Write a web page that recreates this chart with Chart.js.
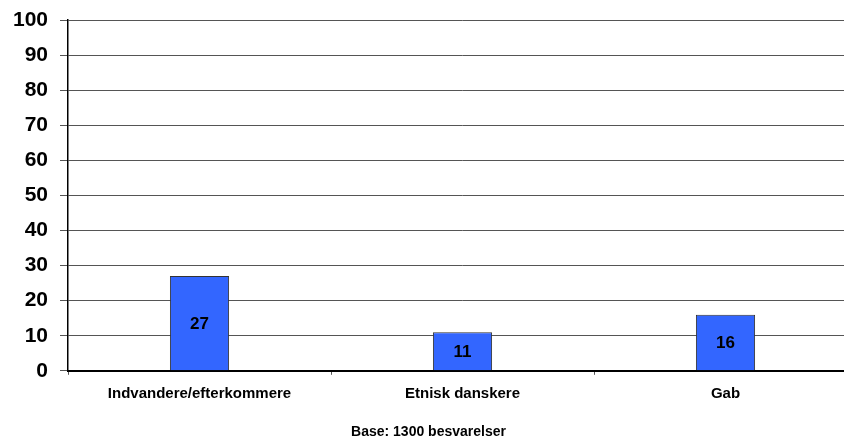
<!DOCTYPE html>
<html>
<head>
<meta charset="utf-8">
<script src="https://cdn.jsdelivr.net/npm/chart.js@4.4.1/dist/chart.umd.min.js"></script>
<style>
  html, body { margin: 0; padding: 0; background: #fff; overflow: hidden; }
  #wrap { width: 844px; height: 438px; overflow: hidden; }
  #box { width: 860px; height: 438px; }
</style>
</head>
<body>
<div id="wrap"><div id="box"><canvas id="gabChart"></canvas></div></div>
<script>
const categories = ["Indvandere/efterkommere", "Etnisk danskere", "Gab"];
const values = [27, 11, 16];
const yTicks = [0, 10, 20, 30, 40, 50, 60, 70, 80, 90, 100];

const FONT = "'Liberation Sans', Arial, sans-serif";

// tal midt i søjlerne
const barValues = {
    id: "barValues",
    afterDatasetsDraw(chart) {
        const ctx = chart.ctx;
        const meta = chart.getDatasetMeta(0);
        ctx.save();
        ctx.font = "bold 17px " + FONT;
        ctx.fillStyle = "#000";
        ctx.textAlign = "center";
        ctx.textBaseline = "middle";
        meta.data.forEach((bar, i) => {
            const mid = (bar.y + bar.base) / 2;
            ctx.fillText(values[i], bar.x, mid + 1);
        });
        ctx.restore();
    },
};

const data = {
    labels: categories,
    datasets: [
        {
            data: values,
            backgroundColor: "#3366FF",
            borderColor: "#333333",
            borderWidth: 1,
            barPercentage: 0.225,
            categoryPercentage: 1,
        },
    ],
};

const config = {
    type: "bar",
    data: data,
    plugins: [barValues],
    options: {
        responsive: true,
        maintainAspectRatio: false,
        animation: false,
        layout: { padding: { top: 20, right: 3, left: 0, bottom: 0 } },
        plugins: {
            legend: { display: false },
            tooltip: { enabled: false },
            title: {
                display: true,
                position: "bottom",
                text: "Base: 1300 besvarelser",
                color: "#000",
                font: { family: FONT, size: 14, weight: "bold", lineHeight: 0.8 },
                padding: { top: 13, bottom: 0 },
            },
        },
        scales: {
            y: {
                min: 0,
                max: 100,
                afterBuildTicks(scale) {
                    scale.ticks = yTicks.map((v) => ({ value: v }));
                },
                afterFit(scale) {
                    scale.width = 68;
                    scale.paddingTop = 0;
                    scale.paddingBottom = 0;
                },
                ticks: {
                    color: "#000",
                    padding: 12,
                    font: { family: FONT, size: 21, weight: "bold" },
                },
                grid: { color: "#555", lineWidth: 1, tickLength: 8 },
                border: { color: "#000", width: 1.5 },
            },
            x: {
                ticks: {
                    color: "#000",
                    padding: 10.5,
                    font: { family: FONT, size: 15, weight: "bold" },
                },
                grid: { drawOnChartArea: false, color: "#555", tickLength: 4, offset: true },
                border: { color: "#000", width: 2 },
            },
        },
    },
};

const gabChart = new Chart(document.getElementById("gabChart"), config);
</script>
</body>
</html>
